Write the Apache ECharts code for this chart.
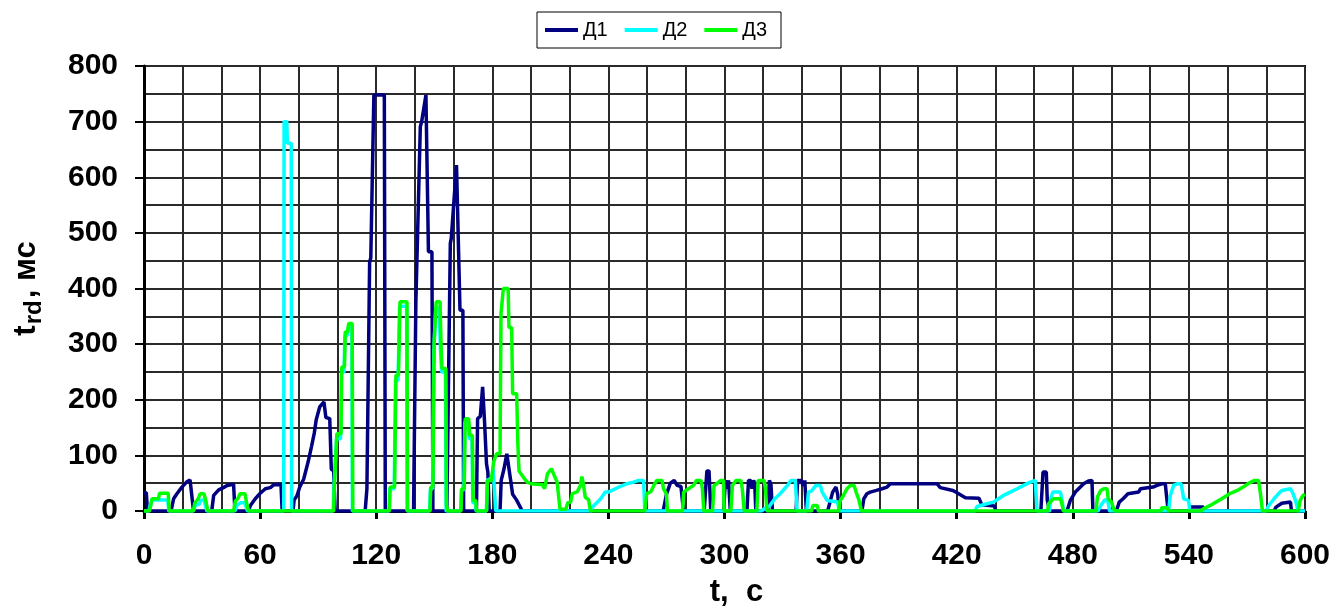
<!DOCTYPE html>
<html>
<head>
<meta charset="utf-8">
<script src="https://cdn.jsdelivr.net/npm/echarts@6/dist/echarts.min.js"></script>
<style>
html,body{margin:0;padding:0;background:#fff;}
#chart{width:1334px;height:609px;}
</style>
</head>
<body>
<div id="chart"></div>
<script>
// ---- data (time in s, values in ms) ----
const seriesNames = ['Д1', 'Д2', 'Д3'];
const xTicks = [0, 60, 120, 180, 240, 300, 360, 420, 480, 540, 600];
const yTicks = [0, 100, 200, 300, 400, 500, 600, 700, 800];

const d1T = [0,1.2,1.8, 14,15.3,17,19.6,22,23.8,25.6, 35,36,38.6,41,43,46.3,47,
  54,55,57.5,60.1,62.7,65.3,67,70.8,71.4,
  77,77.6,79,80.5,82.5,84.8,86.5,88,89,90.8,93,94,96,96.8,98,98.8,
  114.3,115.2,116.6,117.2,118.8,124.2,124.7,
  139.3,140.5,142.8,143.5,145.7,147,148.8,149.3,
  156.5,158.3,158.8,161.5,163.3,164.8,165.2,
  171.8,172.4,173.8,175,176,177,177.7,178.4,
  184,184.6,186,187.5,188.3,189.5,190.5,192.5,195.5,
  268.3,270,272,274,275.5,277.5,278.8,
  289.5,290.9,292,292.9,
  299.6,300.4,301.2,302.1,303,
  311.6,312.4,313.6,314.2,315,315.6,316.2,
  322.4,323.2,324,324.8,
  337,337.8,339.8,340.6,341.5,342.3,
  353.3,355.9,357.6,358.5,359.3,
  371,372,373.6,375.3,378.5,381.4,384,385.7,409.8,411.5,418,419.5,424.5,431.5,433,439.5,440.2,
  463.5,464.6,466.3,466.8,468,
  477,478.7,481.3,483.9,485.6,488.1,489.9,490.4,
  502.5,504,506,508.5,514,515,521.5,523.5,526,527.8,528.5,529.3,
  540.5,541,547.5,548,
  584,585,588,589,592.5,593,600];
const d1V = [33,33,0, 0,22,31,43,52,56,0, 0,28,38,42,46,48,0,
  0,10,22,32,40,42,47,47,0,
  0,20,27,43,57,88,115,140,164,187,196,168,166,75,72,0,
  0,40,448,455,748,748,0,
  0,376,691,700,748,466,466,0,
  0,481,490,622,361,361,0,
  0,166,170,223,160,85,70,0,
  0,55,75,103,100,55,30,20,0,
  0,30,50,55,46,44,0,
  0,72,72,0,
  0,55,40,55,0,
  0,55,55,40,55,50,0,
  0,55,48,0,
  0,55,55,45,55,0,
  0,34,43,30,0,
  0,22,31,34,37,40,43,49,49,42,37,34,24,23,11,9,0,
  0,70,70,20,0,
  0,19,34,43,49,54,55,0,
  0,16,22,31,34,40,43,46,49,49,25,0,
  0,7,7,0,
  0,7,14,16,16,0,0];

const d2T = [0,2.5,3.2,4.2,12.3,12.8, 25.5,26.5,28.5,29.5,31,32.5, 47,48,50,52,53.5,
  72.2,72.4,73.8,74.1,76.1,76.3,
  97.8,98.1,99.1,99.5,101.6,102,103.4,103.8,105,105.6,107.4,107.7,
  126.6,127,129.3,130,131.3,132.1,135.7,136,
  147.6,148,149.1,149.8,150.8,152.6,153.2,153.8,155.8,156.1,
  163.6,164,165.3,165.8,167.6,168.1,169.5,169.9,171.3,171.6,
  177,177.4,180,180.4,181.4,181.8,
  231,232,234,236,238.4,240,243.6,246,249.6,253,255.6,258.2,258.8,
  319,321,323.1,326,328.5,331,332.6,334.3,336.6,337.5,
  342.5,343.4,345,347.2,349.5,350.5,353,358.5,359.3,
  429.5,430.5,435.6,439,441.6,444.2,447.7,451.2,454.6,458,460.6,461.5,
  468,468.6,469.7,473.6,474.4,475.2,
  493,494.5,496.5,498,499,
  529.5,530.4,532.1,533.8,536,537.3,539.8,540.5,
  580,581,582,584,586,588,589,592.4,593.5,595,596.5,600];
const d2V = [0,0,10,20,20,0, 0,10,12,20,20,0, 0,10,15,15,0,
  0,700,700,661,661,0,
  0,38,38,130,130,250,250,315,315,330,330,0,
  0,40,40,235,235,368,368,0,
  0,40,40,290,365,365,290,250,250,0,
  0,38,38,160,160,130,130,15,15,0,
  0,55,60,76,76,0,
  0,8,15,22,34,34,40,44,49,52,55,55,0,
  0,5,8,22,30,40,46,55,55,0,
  0,34,36,46,46,34,19,16,0,
  0,8,13,16,22,28,34,40,46,52,55,0,
  0,22,34,34,20,0,
  0,10,20,20,0,
  0,28,46,49,49,22,19,0,
  0,8,13,22,30,37,40,40,34,20,0,0];

const d3T = [0,2.8,3.5,4.1,7.5,8,12.5,13, 25.5,26.2,28,29,31,32,33, 46.3,47.2,48.5,49.6,52.2,53,54,
  98,98.3,99.3,99.7,101.8,102.2,103.6,104,105.2,105.8,107.6,107.9,
  126.8,127.2,129.5,130.2,131.5,132.3,135.9,136.2,
  147.8,148.2,149.3,150,151,153,153.5,154,156,156.3,157,
  163.8,164.2,165.5,166,167.8,168.3,169.7,170.1,171.5,171.8,
  177,177.5,179.5,180.7,182.2,184,184.5,185.7,188.2,188.6,190,190.5,192.6,193.2,193.8,196,198,200,206,207,208.5,210.5,212,213.5,215,218,219,220.5,221.3,224,225.5,226.3,227.2,228,229.8,230.7,
  258.8,259.8,262,263.5,265,267.7,268.5,270,270.5,
  278.3,278.9,281.4,284,285.5,287.8,288.6,289.3,
  293.8,294.6,296,298,299.5,299.8,
  303.3,304.1,305.9,308.4,309.2,310.2,
  316.7,317.4,320.5,321.2,321.9,
  345,345.7,348,348.5,
  359,359.8,361.5,363.3,365,367,368,369.3,370.3,370.8,
  467,467.5,470,473.6,474.4,475.2,
  492,492.7,494.5,496,497.7,498.3,500,501.5,
  525.5,526,529,529.5,
  546,548,551,554,557,561,565,568,571,574,576,577,578,
  596.5,597.5,599,600];
const d3V = [0,0,10,22,22,32,32,0, 0,14,22,31,31,18,0, 0,18,22,31,31,15,0,
  0,40,40,139,139,259,259,322,322,337,337,0,
  0,43,43,244,244,376,376,0,
  0,43,43,307,376,376,300,256,256,10,0,
  0,40,40,166,166,136,136,19,19,0,
  0,55,55,88,103,103,355,400,400,330,330,211,211,121,72,61,52,49,47,40,67,76,64,52,3,3,15,16,31,35,46,62,46,25,20,0,
  0,31,35,46,55,55,40,31,0,
  0,34,40,46,55,55,40,0,
  0,46,49,55,55,0,
  0,46,55,55,40,0,
  0,55,55,40,0,
  0,10,10,0,
  0,19,28,40,46,46,34,22,22,0,
  0,13,22,22,12,0,
  0,25,37,40,40,22,16,0,
  0,6,6,0,
  0,5,10,16,22,31,37,43,50,55,55,31,0,
  0,19,28,30];

const colors = ['#000080', '#00FFFF', '#00FF00'];
const pairs = (t, v) => t.map((x, i) => [x, v[i]]);
const seriesData = [pairs(d1T, d1V), pairs(d2T, d2V), pairs(d3T, d3V)];

const FONT = 'Liberation Sans, Arial, sans-serif';
const chart = echarts.init(document.getElementById('chart'), null, {renderer: 'canvas'});
const gridLine = {show: true, lineStyle: {color: '#2a2a2a', width: 2}};

chart.setOption({
  animation: false,
  backgroundColor: '#fff',
  textStyle: {fontFamily: FONT},
  legend: {
    data: seriesNames,
    left: 537, top: 12,
    padding: [8, 14, 8, 8],
    itemGap: 17, itemWidth: 33, itemHeight: 4,
    icon: 'rect',
    borderColor: '#000', borderWidth: 1,
    textStyle: {fontFamily: FONT, fontSize: 20, color: '#000'}
  },
  grid: {left: 144, top: 66, width: 1161, height: 445, containLabel: false, outerBoundsMode: 'none',
    show: true, borderColor: '#000', borderWidth: 2, backgroundColor: 'transparent'},
  xAxis: {
    type: 'value', min: xTicks[0], max: xTicks[xTicks.length - 1], interval: 60,
    axisLine: {show: true, onZero: false, lineStyle: {color: '#000', width: 3}},
    axisTick: {show: true, inside: false, length: 8, lineStyle: {color: '#000', width: 3}},
    axisLabel: {margin: 30, fontSize: 30, fontWeight: 'bold', color: '#000', fontFamily: FONT},
    splitLine: gridLine,
    minorTick: {show: false, splitNumber: 3},
    minorSplitLine: gridLine,
    name: 't,  с', nameLocation: 'middle', nameGap: 66,
    nameTextStyle: {fontSize: 31, fontWeight: 'bold', color: '#000', fontFamily: FONT, padding: [0,0,0,24]}
  },
  yAxis: {
    type: 'value', min: yTicks[0], max: yTicks[yTicks.length - 1], interval: 100,
    axisLine: {show: true, lineStyle: {color: '#000', width: 3}},
    axisTick: {show: true, inside: false, length: 9, lineStyle: {color: '#000', width: 2}},
    axisLabel: {margin: 26, fontSize: 30, fontWeight: 'bold', color: '#000', fontFamily: FONT},
    splitLine: gridLine,
    minorTick: {show: false, splitNumber: 2},
    minorSplitLine: gridLine,
    name: '{a|t}{b|rd}{a|, мс}', nameLocation: 'middle', nameGap: 102, nameRotate: 90,
    nameTextStyle: {
      rich: {
        a: {fontSize: 31, fontWeight: 'bold', color: '#000', fontFamily: FONT, lineHeight: 36, verticalAlign: 'bottom'},
        b: {fontSize: 24, fontWeight: 'bold', color: '#000', fontFamily: FONT, lineHeight: 36, verticalAlign: 'bottom', padding: [0,2,-4,1]}
      }
    }
  },
  series: seriesNames.map((n, i) => ({
    name: n, type: 'line', data: seriesData[i], showSymbol: false, symbol: 'none',
    color: colors[i], lineStyle: {color: colors[i], width: 3.5}, z: 3 + i,
    clip: true
  }))
});
</script>
</body>
</html>
